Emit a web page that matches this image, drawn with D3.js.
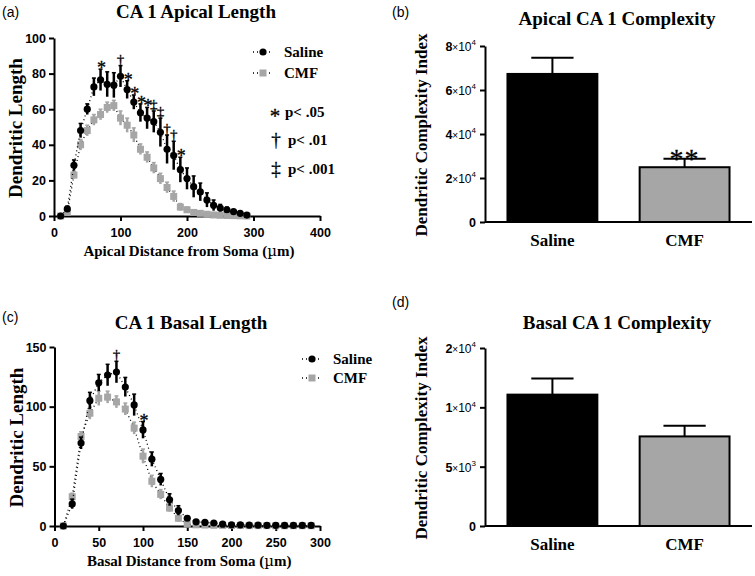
<!DOCTYPE html>
<html>
<head>
<meta charset="utf-8">
<script src="https://cdnjs.cloudflare.com/ajax/libs/d3/7.8.5/d3.min.js"></script>
<style>
  body { margin: 0; background: #fff; }
  svg text { fill: #000; }
  .serif { font-family: "Liberation Serif", "Times New Roman", serif; font-weight: bold; }
  .sans { font-family: "Liberation Sans", Arial, sans-serif; }
</style>
</head>
<body>
<div id="chart"></div>
<script>
// distances (um)
var apicalDist = d3.range(10, 300, 10);
var basalDist = d3.range(10, 300, 10);

// panel (a) apical length
var apSaline    = [0, 4, 28.5, 48, 60, 72.5, 76.5, 74, 73.5, 78.5, 71, 64, 58, 55, 53, 47, 37.5, 34, 26, 21, 16.5, 13.5, 9, 6, 4.5, 3.5, 2.5, 1.5, 0.5];
var apSalineErr = [0.5, 1.5, 3, 4, 3, 5, 6, 7, 7, 6, 5, 4, 5, 6, 6, 8, 8, 8, 7, 6, 6, 5, 4, 3, 2, 1.5, 1, 1, 0.5];
var apCMF       = [0, 2, 23, 40, 48, 54, 57, 61, 62, 55, 51, 45.5, 37.5, 33, 27, 21, 16, 11, 5, 3.5, 2, 1.5, 1, 0.6, 0.4, 0.3, 0.2, 0.1, 0];
var apCMFErr    = [0.3, 1, 2, 3, 3, 3, 3, 3, 3, 4, 4, 4, 3, 3, 3, 3, 3, 3, 2, 1.5, 1, 1, 0.5, 0.5, 0.3, 0.3, 0.2, 0.1, 0.1];
var apMarks = [[70, "*"], [100, "\u2020"], [110, "*"], [120, "*"], [130, "*"], [140, "*"],
               [150, "\u2021"], [160, "\u2021"], [170, "\u2020"], [180, "\u2020"], [190, "*"]];
var apXTicks = [0, 100, 200, 300, 400];
var apYTicks = [0, 20, 40, 60, 80, 100];

// panel (c) basal length
var baSaline    = [0, 18.5, 69.5, 105, 120, 126.5, 129, 116.5, 101.5, 80.5, 56, 39, 22, 13, 6.5, 3.5, 3, 2.5, 1.5, 1, 1, 0.8, 0.8, 0.6, 0.6, 0.5, 0.5, 0.5, 0.5];
var baSalineErr = [0.5, 4, 5, 7, 7, 9, 9, 8, 9, 7, 6, 5, 5, 4, 2, 1.5, 1, 1, 0.8, 0.5, 0.5, 0.5, 0.5, 0.4, 0.4, 0.3, 0.3, 0.3, 0.3];
var baCMF       = [0, 24.5, 75, 94.5, 107, 108, 104, 98, 82, 58.5, 37.5, 26.5, 15, 6.5, 1.5, 1, 0.8, 0.6, 0.5, 0.4, 0.4, 0.3, 0.3, 0.3, 0.2, 0.2, 0.2, 0.2, 0.2];
var baCMFErr    = [0.3, 3, 4, 5, 6, 5, 5, 5, 5, 6, 5, 4, 3, 3, 2, 1, 0.5, 0.5, 0.3, 0.3, 0.3, 0.2, 0.2, 0.2, 0.2, 0.2, 0.2, 0.2, 0.2];
var baMarks = [[70, "\u2020"], [100, "*"]];
var baXTicks = [0, 50, 100, 150, 200, 250, 300];
var baYTicks = [0, 50, 100, 150];

// panels (b) and (d) complexity
var groups = ["Saline", "CMF"];
var apComplexity    = [67300, 24900];
var apComplexityErr = [7400, 3900];
var apCTicks  = [0, 20000, 40000, 60000, 80000];
var apCLabels = [["0"], ["2", "4"], ["4", "4"], ["6", "4"], ["8", "4"]];
var baComplexity    = [11070, 7550];
var baComplexityErr = [1350, 900];
var baCTicks  = [0, 5000, 10000, 15000];
var baCLabels = [["0"], ["5", "3"], ["1", "4"], ["2", "4"]];

var svg = d3.select("#chart").append("svg")
    .attr("width", 755).attr("height", 576);

function panelLabel(x, y, t) {
  svg.append("text").attr("class", "sans").attr("x", x).attr("y", y)
    .attr("font-size", 14).text(t);
}

function styleAxis(g) {
  g.select(".domain").attr("stroke", "#000").attr("stroke-width", 2);
  g.selectAll(".tick line").attr("stroke", "#000").attr("stroke-width", 2);
  g.selectAll(".tick text").attr("class", "sans").attr("font-weight", "bold")
    .attr("font-size", 12.5).attr("fill", "#000");
}

function symbol(x, y, ch, size) {
  return svg.append("text").attr("x", x).attr("y", y).attr("text-anchor", "middle")
    .attr("font-family", "Liberation Serif, serif").attr("font-size", size)
    .style("fill", "#000").style("stroke", "#000").style("stroke-width", 0.3).text(ch);
}

function linePanel(o) {
  var x = d3.scaleLinear().domain(o.xDomain).range([o.left, o.right]);
  var y = d3.scaleLinear().domain(o.yDomain).range([o.bottom, o.top]);

  var gx = svg.append("g").attr("transform", "translate(0," + o.bottom + ")")
    .call(d3.axisBottom(x).tickValues(o.xTicks).tickSize(5).tickSizeOuter(0));
  styleAxis(gx);
  gx.selectAll(".tick text").attr("dy", "1em");
  var gy = svg.append("g").attr("transform", "translate(" + o.left + ",0)")
    .call(d3.axisLeft(y).tickValues(o.yTicks).tickSize(5).tickSizeOuter(0));
  styleAxis(gy);

  var line = d3.line().x(function(d) { return x(d[0]); }).y(function(d) { return y(d[1]); });

  var series = [
    {v: o.cmf, e: o.cmfErr, color: "#a6a6a6", shape: "square"},
    {v: o.saline, e: o.salineErr, color: "#000", shape: "circle"}
  ];
  series.forEach(function(s) {
    var pts = o.dist.map(function(d, i) { return [d, s.v[i], s.e[i]]; });
    svg.append("path").datum(pts).attr("d", line)
      .attr("fill", "none").attr("stroke", "#000").attr("stroke-width", 1.3)
      .attr("stroke-dasharray", "1,3");
    var g = svg.append("g");
    g.selectAll("line.eb").data(pts).enter().append("line")
      .attr("x1", function(d) { return x(d[0]); }).attr("x2", function(d) { return x(d[0]); })
      .attr("y1", function(d) { return y(d[1] - d[2]); }).attr("y2", function(d) { return y(d[1] + d[2]); })
      .attr("stroke", s.color).attr("stroke-width", 2.5);
    g.selectAll("line.cap").data(pts).enter().append("line")
      .attr("x1", function(d) { return x(d[0]) - 2; }).attr("x2", function(d) { return x(d[0]) + 2; })
      .attr("y1", function(d) { return y(d[1] + d[2]); }).attr("y2", function(d) { return y(d[1] + d[2]); })
      .attr("stroke", s.color).attr("stroke-width", 1.5);
    if (s.shape === "circle") {
      g.selectAll("circle").data(pts).enter().append("circle")
        .attr("cx", function(d) { return x(d[0]); }).attr("cy", function(d) { return y(d[1]); })
        .attr("r", 3.6).attr("fill", s.color);
    } else {
      g.selectAll("rect").data(pts).enter().append("rect")
        .attr("x", function(d) { return x(d[0]) - 3.5; }).attr("y", function(d) { return y(d[1]) - 3.5; })
        .attr("width", 7).attr("height", 7).attr("fill", s.color);
    }
  });

  // significance marks above saline error bars
  o.marks.forEach(function(m) {
    var i = o.dist.indexOf(m[0]);
    var top = y(o.saline[i] + o.salineErr[i]);
    if (m[1] === "*") symbol(x(m[0]) + 1, top + 5, m[1], 18);
    else symbol(x(m[0]), top - 1, m[1], 15);
  });

  // title and axis labels
  svg.append("text").attr("class", "serif").attr("x", o.titleX).attr("y", o.titleY)
    .attr("text-anchor", "middle").attr("font-size", 19).text(o.title);
  svg.append("text").attr("class", "serif")
    .attr("transform", "translate(" + (o.left - 32) + "," + ((o.top + o.bottom) / 2 + 1) + ") rotate(-90)")
    .attr("text-anchor", "middle").attr("font-size", 19).text("Dendritic Length");
  var xl = svg.append("text").attr("class", "serif").attr("x", (o.left + o.right) / 2 + 2)
    .attr("y", o.bottom + 40).attr("text-anchor", "middle").attr("font-size", 15);
  xl.append("tspan").text(o.xLabel + " (");
  xl.append("tspan").attr("font-family", "DejaVu Serif, serif").style("font-weight", "normal").text("\u00b5");
  xl.append("tspan").text("m)");

  // legend
  [["Saline", "#000", "circle"], ["CMF", "#a6a6a6", "square"]].forEach(function(l, i) {
    var ly = o.legY + i * o.legStep, lx = o.legX;
    svg.append("line").attr("x1", lx - 10).attr("x2", lx + 10).attr("y1", ly).attr("y2", ly)
      .attr("stroke", "#000").attr("stroke-width", 1.3).attr("stroke-dasharray", "1,3");
    if (l[2] === "circle") svg.append("circle").attr("cx", lx).attr("cy", ly).attr("r", 3.6).attr("fill", l[1]);
    else svg.append("rect").attr("x", lx - 3.5).attr("y", ly - 3.5).attr("width", 7).attr("height", 7).attr("fill", l[1]);
    svg.append("text").attr("class", "serif").attr("x", lx + 21).attr("y", ly + 5)
      .attr("font-size", 15).text(l[0]);
  });
}

function barPanel(o) {
  var x = d3.scaleBand().domain(groups).range([o.left, o.right]).paddingInner(0.32).paddingOuter(0.17);
  var y = d3.scaleLinear().domain(o.yDomain).range([o.bottom, o.top]);

  var gy = svg.append("g").attr("transform", "translate(" + o.left + ",0)")
    .call(d3.axisLeft(y).tickValues(o.ticks).tickSize(5).tickSizeOuter(0).tickFormat(""));
  styleAxis(gy);
  gy.selectAll(".tick").each(function(d, i) {
    var lab = o.labels[i];
    var t = d3.select(this).append("text").attr("class", "sans").attr("x", -9).attr("dy", "0.35em")
      .attr("text-anchor", "end").attr("font-weight", "bold").attr("font-size", 12.5).attr("fill", "#000");
    t.append("tspan").text(lab[0]);
    if (lab.length > 1) {
      t.append("tspan").attr("font-size", 10).attr("font-weight", "normal").text("\u00d7");
      t.append("tspan").attr("font-size", 12).attr("font-weight", "normal").text("10");
      t.append("tspan").attr("font-size", 8).attr("font-weight", "normal").attr("dy", "-0.7em").text(lab[1]);
    }
  });

  var fills = ["#000", "#a6a6a6"];
  groups.forEach(function(g, i) {
    var cx = x(g) + x.bandwidth() / 2;
    var capW = x.bandwidth() * 0.47;
    svg.append("line").attr("x1", cx).attr("x2", cx)
      .attr("y1", y(o.values[i])).attr("y2", y(o.values[i] + o.errs[i]))
      .attr("stroke", "#000").attr("stroke-width", 2);
    svg.append("line").attr("x1", cx - capW / 2).attr("x2", cx + capW / 2)
      .attr("y1", y(o.values[i] + o.errs[i])).attr("y2", y(o.values[i] + o.errs[i]))
      .attr("stroke", "#000").attr("stroke-width", 2);
    svg.append("rect").attr("x", x(g)).attr("y", y(o.values[i]))
      .attr("width", x.bandwidth()).attr("height", y(0) - y(o.values[i]))
      .attr("fill", fills[i]).attr("stroke", "#000").attr("stroke-width", 2);
    svg.append("text").attr("class", "serif").attr("x", cx).attr("y", o.bottom + 24)
      .attr("text-anchor", "middle").attr("font-size", 17).text(g);
    if (o.sig && o.sig[i]) {
      symbol(cx, y(o.values[i] + o.errs[i]) + 9, o.sig[i], 28).attr("letter-spacing", 1);
    }
  });
  svg.append("line").attr("x1", o.left).attr("x2", o.right).attr("y1", o.bottom).attr("y2", o.bottom)
    .attr("stroke", "#000").attr("stroke-width", 2);

  svg.append("text").attr("class", "serif").attr("x", o.titleX).attr("y", o.titleY)
    .attr("text-anchor", "middle").attr("font-size", 19).text(o.title);
  svg.append("text").attr("class", "serif")
    .attr("transform", "translate(" + (o.left - 58) + "," + ((o.top + o.bottom) / 2 + 1) + ") rotate(-90)")
    .attr("text-anchor", "middle").attr("font-size", 17).text("Dendritic Complexity Index");
}

panelLabel(2, 17, "(a)");
linePanel({
  dist: apicalDist, saline: apSaline, salineErr: apSalineErr, cmf: apCMF, cmfErr: apCMFErr,
  marks: apMarks, xDomain: [0, 400], yDomain: [0, 100], xTicks: apXTicks, yTicks: apYTicks,
  left: 54, right: 320, top: 38, bottom: 216,
  title: "CA 1 Apical Length", titleX: 196, titleY: 18, xLabel: "Apical Distance from Soma",
  legX: 263, legY: 52, legStep: 21
});
// p-value key
[["*", "p< .05", 117], ["\u2020", "p< .01", 145], ["\u2021", "p< .001", 174]].forEach(function(k) {
  if (k[0] === "*") symbol(275, k[2] + 6, k[0], 21);
  else symbol(276, k[2] + 1, k[0], 19);
  svg.append("text").attr("class", "serif").attr("x", 285 + (k[0] === "*" ? 0 : 3)).attr("y", k[2])
    .attr("font-size", 15).text(k[1]);
});

panelLabel(2, 322, "(c)");
linePanel({
  dist: basalDist, saline: baSaline, salineErr: baSalineErr, cmf: baCMF, cmfErr: baCMFErr,
  marks: baMarks, xDomain: [0, 300], yDomain: [0, 150], xTicks: baXTicks, yTicks: baYTicks,
  left: 54.5, right: 320, top: 347, bottom: 526,
  title: "CA 1 Basal Length", titleX: 191, titleY: 329, xLabel: "Basal Distance from Soma",
  legX: 312, legY: 359, legStep: 19
});

panelLabel(392, 17, "(b)");
barPanel({
  values: apComplexity, errs: apComplexityErr, ticks: apCTicks, labels: apCLabels, yDomain: [0, 80000],
  left: 485, right: 752, top: 46, bottom: 222, sig: ["", "**"],
  title: "Apical CA 1 Complexity", titleX: 617, titleY: 25
});

panelLabel(392, 307, "(d)");
barPanel({
  values: baComplexity, errs: baComplexityErr, ticks: baCTicks, labels: baCLabels, yDomain: [0, 15000],
  left: 485, right: 752, top: 348, bottom: 526, sig: null,
  title: "Basal CA 1 Complexity", titleX: 617, titleY: 329
});
</script>
</body>
</html>
